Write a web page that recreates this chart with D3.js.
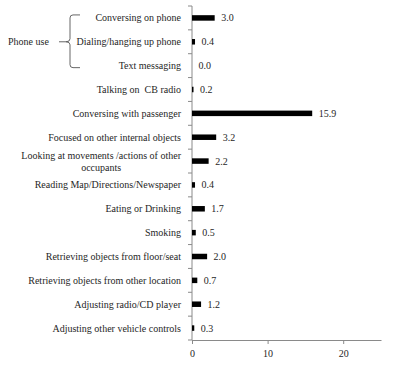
<!DOCTYPE html>
<html>
<head>
<meta charset="utf-8">
<script src="https://cdn.jsdelivr.net/npm/d3@7"></script>
<style>
  body { margin: 0; background: #fff; }
  svg { font-family: "Liberation Serif", serif; }
  text { white-space: pre; }
</style>
</head>
<body>
<svg id="chart" width="400" height="365"></svg>
<script>
var categories = [
  "Conversing on phone",
  "Dialing/hanging up phone",
  "Text messaging",
  "Talking on  CB radio",
  "Conversing with passenger",
  "Focused on other internal objects",
  "Looking at movements /actions of other|occupants",
  "Reading Map/Directions/Newspaper",
  "Eating or Drinking",
  "Smoking",
  "Retrieving objects from floor/seat",
  "Retrieving objects from other location",
  "Adjusting radio/CD player",
  "Adjusting other vehicle controls"
]
var values = [3.0, 0.4, 0.0, 0.2, 15.9, 3.2, 2.2, 0.4, 1.7, 0.5, 2.0, 0.7, 1.2, 0.3]
var xTicks = [0, 10, 20]
var groupLabel = "Phone use"

var svg = d3.select('svg#chart')
var margin = {left: 192, right: 19, top: 6, bottom: 25}
var width = 400
var height = 365

var x = d3.scaleLinear()
    .domain([0, 25])
    .range([margin.left, width - margin.right])
var y = d3.scaleBand()
    .domain(d3.range(categories.length))
    .range([margin.top, height - margin.bottom])

var axisColor = "#8a8a8a"
var textColor = "#262626"

// x axis
xAxis = g => g
    .attr("transform", `translate(0,${height - margin.bottom})`)
    .call(d3.axisBottom(x).tickValues(xTicks).tickSize(4).tickSizeOuter(0).tickPadding(6))
    .call(g => g.select(".domain").attr("stroke", axisColor))
    .call(g => g.selectAll(".tick line").attr("stroke", axisColor))
    .call(g => g.selectAll(".tick text")
        .attr("fill", textColor)
        .style("font", '10px "Liberation Serif", serif'))

svg.append("g").call(xAxis)

// y axis: line + ticks on the band boundaries
var yg = svg.append("g")
yg.append("line")
    .attr("x1", x(0)).attr("x2", x(0))
    .attr("y1", margin.top).attr("y2", height - margin.bottom)
    .attr("stroke", axisColor)
yg.selectAll("line.tk")
  .data(d3.range(categories.length + 1))
  .enter()
  .append("line")
    .attr("class", "tk")
    .attr("x1", x(0) - 4).attr("x2", x(0))
    .attr("y1", i => y.step() * i + margin.top)
    .attr("y2", i => y.step() * i + margin.top)
    .attr("stroke", axisColor)

// category labels
var labels = svg.append("g")
    .attr("fill", textColor)
    .style("font-size", "10px")
  .selectAll("text")
  .data(categories)
  .enter()
  .append("text")
    .attr("text-anchor", "end")
    .attr("x", x(0) - 11)
    .attr("y", (d, i) => y(i) + y.bandwidth() / 2)
    .attr("dy", "0.35em")
    .text(d => d.split("|")[0])

labels.filter(d => d.indexOf("|") >= 0).each(function(d, i) {
  var t = d3.select(this)
  var w = this.getComputedTextLength()
  var cy = +t.attr("y")
  t.attr("y", cy - 6)
  svg.append("text")
      .attr("fill", textColor)
      .style("font-size", "10px")
      .attr("text-anchor", "middle")
      .attr("x", x(0) - 11 - w / 2)
      .attr("y", cy + 6)
      .attr("dy", "0.35em")
      .text(d.split("|")[1])
})

// bars
var barH = 5.5
svg.append("g")
    .attr("fill", "#000")
  .selectAll("rect")
  .data(values)
  .enter()
  .append("rect")
    .attr("x", x(0))
    .attr("y", (d, i) => y(i) + y.bandwidth() / 2 - barH / 2)
    .attr("width", d => x(d) - x(0))
    .attr("height", barH)

// value labels
svg.append("g")
    .attr("fill", textColor)
    .style("font-size", "10px")
  .selectAll("text")
  .data(values)
  .enter()
  .append("text")
    .attr("x", d => x(d) + 6.5)
    .attr("y", (d, i) => y(i) + y.bandwidth() / 2)
    .attr("dy", "0.35em")
    .text(d => d.toFixed(1))

// phone use brace
var top0 = y(0) + y.bandwidth() / 2 - 3
var bot0 = y(2) + y.bandwidth() / 2 + 2
var mid0 = y(1) + y.bandwidth() / 2
svg.append("path")
    .attr("fill", "none")
    .attr("stroke", "#555")
    .attr("stroke-width", 0.9)
    .attr("d", `M80,${top0} L73,${top0} Q70,${top0} 70,${top0 + 3} L70,${mid0 - 3} Q70,${mid0} 66,${mid0} L59,${mid0}
                M66,${mid0} Q70,${mid0} 70,${mid0 + 3} L70,${bot0 - 3} Q70,${bot0} 73,${bot0} L80,${bot0}`)

svg.append("text")
    .attr("fill", textColor)
    .style("font-size", "10px")
    .attr("x", 8)
    .attr("y", mid0)
    .attr("dy", "0.35em")
    .text(groupLabel)
</script>
</body>
</html>
